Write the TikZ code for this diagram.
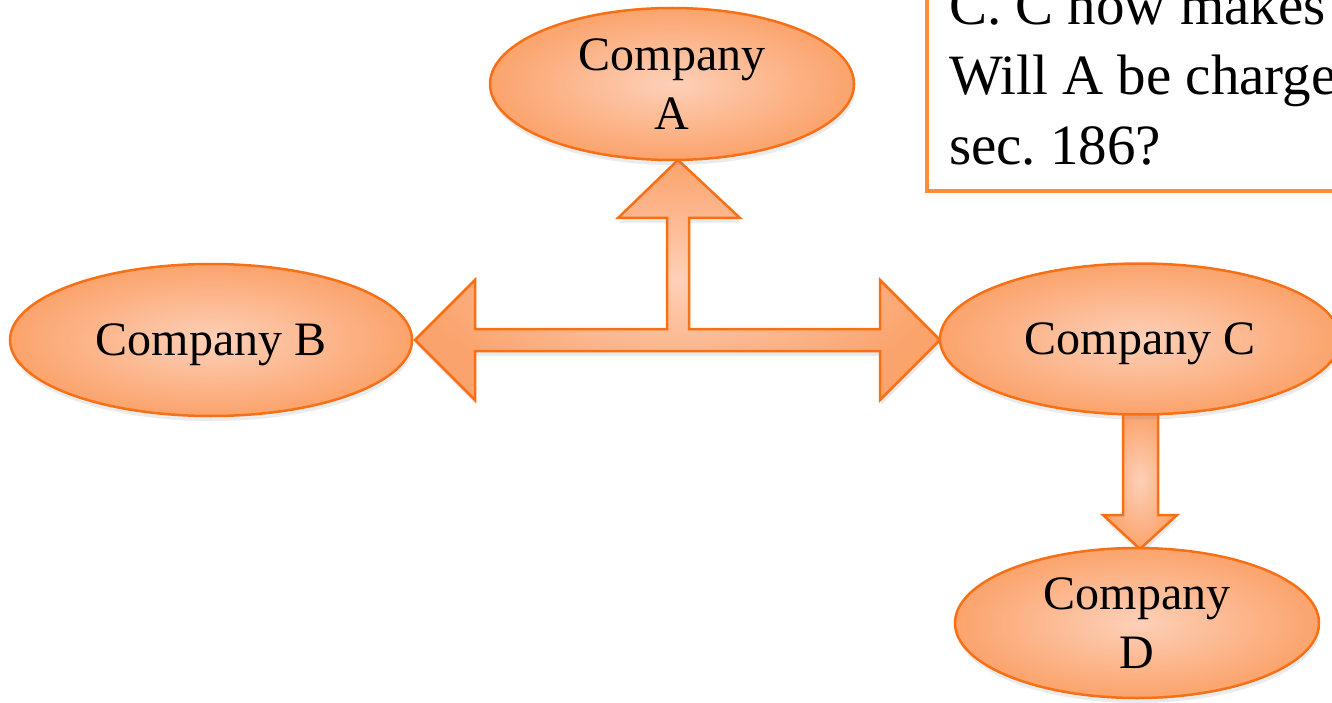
\documentclass[tikz,border=0pt]{standalone}
\usepackage{fontspec}
\setmainfont{Liberation Serif}
\usetikzlibrary{shapes.geometric,shadows}
\definecolor{edgeor}{RGB}{248,112,22}
\definecolor{peachin}{RGB}{253,208,184}
\definecolor{peachout}{RGB}{251,163,108}
\definecolor{notebord}{RGB}{255,140,60}
\begin{document}
\frenchspacing
\begin{tikzpicture}[x=1pt,y=-1pt,
  softshadow/.style={drop shadow={opacity=0.16, shadow xshift=1pt, shadow yshift=-5pt}},
  company/.style={ellipse, draw=edgeor, line width=2.5pt, inner color=peachin,
    outer color=peachout, inner sep=0pt, align=center, text depth=0pt,
    font=\fontsize{48}{59}\selectfont, softshadow},
  blockarrow/.style={draw=edgeor, line width=2.5pt, line join=miter,
    inner color=peachin, outer color=peachout, softshadow},
  notebox/.style={draw=notebord, line width=4pt, fill=white, align=left,
    font=\fontsize{57}{70}\selectfont}]
\useasboundingbox (0,0) rectangle (1332,703);
\clip (0,0) rectangle (1332,703);

% three-headed block arrow from the middle towards A, B and C
\path[blockarrow] (415,340) -- (475,280) -- (475,329) -- (667,329) -- (667,218)
  -- (618,218) -- (678,160) -- (740,218) -- (689,218) -- (689,329) -- (880,329)
  -- (880,280) -- (940,340) -- (880,400) -- (880,351) -- (475,351) -- (475,400) -- cycle;

% block arrow from C down to D
\path[blockarrow] (1123,412) -- (1158,412) -- (1158,515) -- (1177,515) -- (1140,549)
  -- (1103,515) -- (1123,515) -- cycle;

% companies
\node[company, minimum width=364pt, minimum height=152pt] (A) at (672,84) {Company\\A};
\node[company, minimum width=402pt, minimum height=152pt] (B) at (211,340) {Company B};
\node[company, minimum width=400pt, minimum height=151pt] (C) at (1140,339) {Company C};
\node[company, minimum width=364pt, minimum height=150pt] (D) at (1137,623) {Company\\D};

% question box, running past the right edge
\node[notebox, anchor=south west, inner xsep=22pt, inner ysep=26pt]
  (note) at (925,193) {C. C now makes\\Will A be charge\\sec. 186?};
\end{tikzpicture}
\end{document}
